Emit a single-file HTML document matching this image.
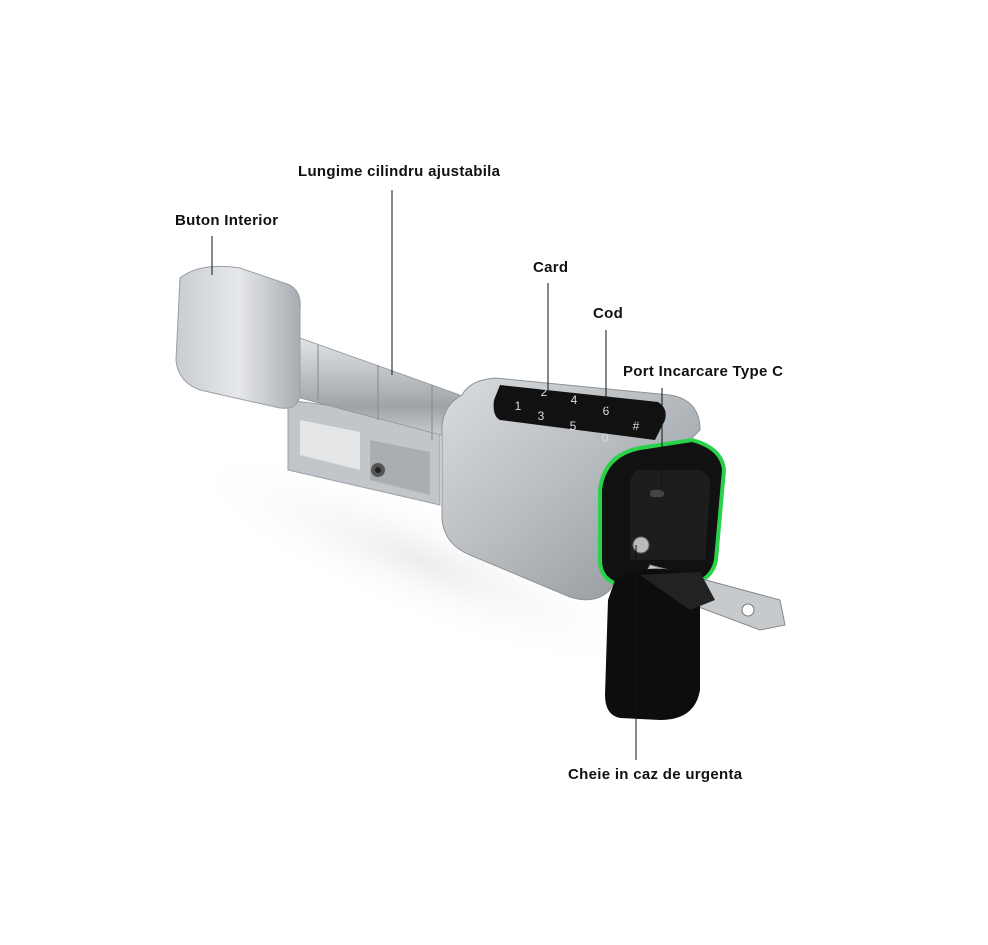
<!DOCTYPE html>
<html><head><meta charset="utf-8"><style>
html,body{margin:0;padding:0;background:#fff;}
body{width:988px;height:945px;position:relative;overflow:hidden;}
.l{position:absolute;font-family:"Liberation Sans",sans-serif;font-weight:bold;font-size:15px;color:#111;white-space:nowrap;letter-spacing:0.3px;}
</style></head><body>
<svg width="988" height="945" style="position:absolute;left:0;top:0">
<defs>
<linearGradient id="met" x1="0" y1="0" x2="0" y2="1">
<stop offset="0" stop-color="#e8eaec"/><stop offset=".35" stop-color="#c4c8cc"/><stop offset=".7" stop-color="#9ea3a8"/><stop offset="1" stop-color="#d0d3d6"/></linearGradient>
<linearGradient id="body" x1="0" y1="0" x2="1" y2="1">
<stop offset="0" stop-color="#d9dcdf"/><stop offset=".5" stop-color="#b5babe"/><stop offset="1" stop-color="#8d9297"/></linearGradient>
<linearGradient id="knob" x1="0" y1="0" x2="1" y2="0">
<stop offset="0" stop-color="#c9cdd1"/><stop offset=".5" stop-color="#e6e8ea"/><stop offset="1" stop-color="#a7acb1"/></linearGradient>
<radialGradient id="sh" cx=".5" cy=".5" r=".5"><stop offset="0" stop-color="#ececec"/><stop offset="1" stop-color="#fff" stop-opacity="0"/></radialGradient>
</defs>
<ellipse cx="420" cy="560" rx="260" ry="60" fill="url(#sh)" transform="rotate(22 420 560)"/>
<polygon points="288,400 440,420 440,505 288,470" fill="#c2c6ca" stroke="#9a9fa4"/>
<polygon points="300,420 360,432 360,470 300,455" fill="#e3e5e7"/>
<polygon points="370,440 430,452 430,495 370,480" fill="#a9aeb3"/>
<circle cx="378" cy="470" r="7" fill="#555"/><circle cx="378" cy="470" r="3" fill="#222"/>
<polygon points="262,330 300,338 460,395 460,440 300,398 262,390" fill="url(#met)" stroke="#8d9297" stroke-width=".8"/>
<line x1="318" y1="345" x2="318" y2="400" stroke="#888"/>
<line x1="378" y1="365" x2="378" y2="420" stroke="#888"/>
<line x1="432" y1="385" x2="432" y2="440" stroke="#888"/>
<path d="M180,278 Q200,262 240,268 L290,285 Q302,292 300,310 L300,395 Q298,410 280,408 L200,390 Q178,382 176,360 Z" fill="url(#knob)" stroke="#9a9fa4"/>
<path d="M462,395 Q470,380 495,378 L670,395 Q700,400 700,430 L690,440 L610,590 Q595,605 570,597 L470,555 Q445,545 442,520 L442,425 Q444,405 462,395 Z" fill="url(#body)" stroke="#8d9297"/>
<path d="M500,385 L658,402 Q668,408 665,420 L655,440 L500,420 Q492,416 494,400 Z" fill="#111"/>
<g font-family="Liberation Sans" font-size="12" fill="#ddd" text-anchor="middle">
<text x="518" y="410">1</text><text x="544" y="396">2</text><text x="574" y="404">4</text><text x="606" y="415">6</text>
<text x="541" y="420">3</text><text x="573" y="430">5</text><text x="605" y="442">0</text><text x="636" y="430">#</text>
</g>
<path d="M692,440 Q722,448 724,470 L716,560 Q712,580 690,585 L620,585 Q600,580 600,560 L600,490 Q604,455 640,448 Z" fill="#111" stroke="#2ad24a" stroke-width="4"/>
<path d="M636,470 L700,470 Q712,475 710,490 L705,560 L630,560 L630,480 Z" fill="#1d1d1d"/>
<rect x="650" y="490" width="14" height="7" rx="3" fill="#444"/>
<polygon points="650,565 780,600 785,625 760,630 640,585" fill="#c7cacd" stroke="#888"/>
<circle cx="748" cy="610" r="6" fill="#fff" stroke="#777"/>
<circle cx="641" cy="545" r="8" fill="#bbb" stroke="#666"/>
<path d="M615,580 Q650,560 690,575 L700,590 L700,690 Q695,720 660,720 L620,718 Q605,715 605,695 L608,600 Z" fill="#0d0d0d"/>
<path d="M640,575 L700,572 L715,600 L690,610 Z" fill="#222"/>
<g stroke="#111" stroke-width="1">
<line x1="392" y1="190" x2="392" y2="375"/>
<line x1="212" y1="236" x2="212" y2="275"/>
<line x1="548" y1="283" x2="548" y2="390"/>
<line x1="606" y1="330" x2="606" y2="410"/>
<line x1="662" y1="388" x2="662" y2="492"/>
<line x1="636" y1="545" x2="636" y2="760"/>
</g>
</svg>
<div class="l" style="left:298px;top:163px">Lungime cilindru ajustabila</div>
<div class="l" style="left:175px;top:212px">Buton Interior</div>
<div class="l" style="left:533px;top:259px">Card</div>
<div class="l" style="left:593px;top:305px">Cod</div>
<div class="l" style="left:623px;top:363px">Port Incarcare Type C</div>
<div class="l" style="left:568px;top:766px">Cheie in caz de urgenta</div>
</body></html>
